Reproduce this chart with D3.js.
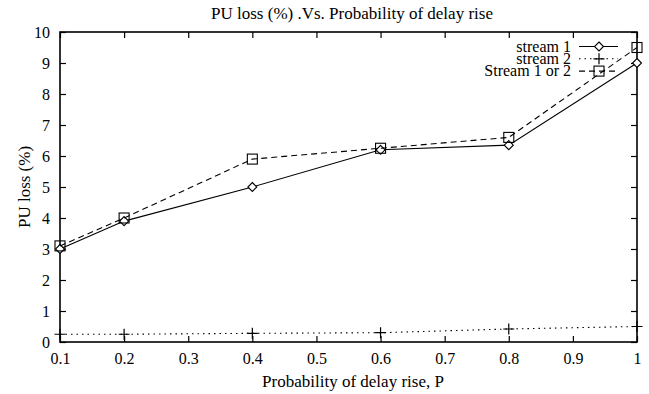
<!DOCTYPE html>
<html>
<head>
<meta charset="utf-8">
<script src="https://cdn.jsdelivr.net/npm/d3@7.9.0/dist/d3.min.js"></script>
<style>
  body { margin: 0; background: #fff; }
  svg text { font-family: 'Liberation Serif', 'Times New Roman', Times, serif; fill: #000; }
</style>
</head>
<body>
<svg id="chart" width="649" height="394"></svg>
<script>
const probs = [0.1, 0.2, 0.4, 0.6, 0.8, 1.0];
const stream1 = [3.0, 3.9, 5.0, 6.2, 6.35, 9.0];
const stream2 = [0.25, 0.25, 0.28, 0.3, 0.42, 0.5];
const streamEither = [3.1, 4.0, 5.9, 6.25, 6.6, 9.5];
const xTicks = [0.1, 0.2, 0.3, 0.4, 0.5, 0.6, 0.7, 0.8, 0.9, 1];
const yTicks = [0, 1, 2, 3, 4, 5, 6, 7, 8, 9, 10];

const svg = d3.select('#chart');
const m = { left: 60, right: 12, top: 32, bottom: 52 };
const w = 649 - m.left - m.right;
const h = 394 - m.top - m.bottom;

const x = d3.scaleLinear().domain([0.1, 1]).range([m.left, m.left + w]);
const y = d3.scaleLinear().domain([0, 10]).range([m.top + h, m.top]);

const fmt = (d) => (d === 1 ? '1' : d3.format('.1f')(d));

// ticks inward on all four sides
svg.append('g')
  .attr('transform', `translate(0,${m.top + h})`)
  .call(d3.axisBottom(x).tickValues(xTicks).tickFormat(fmt).tickSizeInner(-6).tickSizeOuter(0).tickPadding(11))
  .call((g) => g.select('.domain').remove());
svg.append('g')
  .attr('transform', `translate(0,${m.top})`)
  .call(d3.axisTop(x).tickValues(xTicks).tickFormat('').tickSizeInner(-6).tickSizeOuter(0))
  .call((g) => g.select('.domain').remove());
svg.append('g')
  .attr('transform', `translate(${m.left},0)`)
  .call(d3.axisLeft(y).tickValues(yTicks).tickSizeInner(-6).tickSizeOuter(0).tickPadding(10))
  .call((g) => g.select('.domain').remove());
svg.append('g')
  .attr('transform', `translate(${m.left + w},0)`)
  .call(d3.axisRight(y).tickValues(yTicks).tickFormat('').tickSizeInner(-6).tickSizeOuter(0))
  .call((g) => g.select('.domain').remove());

svg.selectAll('g').attr('font-family', null);
svg.selectAll('.tick line').attr('stroke', '#000').attr('stroke-width', 1.2);
svg.selectAll('.tick text').attr('font-size', 16).attr('fill', '#000');

svg.append('rect')
  .attr('x', m.left).attr('y', m.top).attr('width', w).attr('height', h)
  .attr('fill', 'none').attr('stroke', '#000').attr('stroke-width', 1.6);

// titles
svg.append('text').attr('x', 352).attr('y', 19).attr('text-anchor', 'middle')
  .attr('font-size', 17).text('PU loss (%) .Vs. Probability of delay rise');
svg.append('text').attr('x', 353).attr('y', 387).attr('text-anchor', 'middle')
  .attr('font-size', 17).text('Probability of delay rise, P');
svg.append('text').attr('transform', `translate(30,${m.top + h / 2}) rotate(-90)`)
  .attr('text-anchor', 'middle').attr('font-size', 17).text('PU loss (%)');

const series = [
  { name: 'stream 1', values: stream1, dash: null, marker: 'diamond' },
  { name: 'stream 2', values: stream2, dash: '1.5,4', marker: 'plus' },
  { name: 'Stream 1 or 2', values: streamEither, dash: '6,4', marker: 'square' },
];

const line = d3.line().x((d) => x(d[0])).y((d) => y(d[1]));

function drawMarker(g, type, cx, cy) {
  if (type === 'diamond') {
    g.append('path').attr('d', `M${cx},${cy - 4.5}L${cx + 4.5},${cy}L${cx},${cy + 4.5}L${cx - 4.5},${cy}Z`)
      .attr('fill', '#fff').attr('stroke', '#000').attr('stroke-width', 1.1);
  } else if (type === 'plus') {
    g.append('path').attr('d', `M${cx - 5.5},${cy}H${cx + 5.5}M${cx},${cy - 5.5}V${cy + 5.5}`)
      .attr('stroke', '#000').attr('stroke-width', 1.2);
  } else {
    g.append('rect').attr('x', cx - 5).attr('y', cy - 5).attr('width', 10).attr('height', 10)
      .attr('fill', 'none').attr('stroke', '#000').attr('stroke-width', 1.1);
  }
}

series.forEach((s) => {
  const pts = probs.map((p, i) => [p, s.values[i]]);
  svg.append('path').datum(pts).attr('d', line)
    .attr('fill', 'none').attr('stroke', '#000').attr('stroke-width', 1.1)
    .attr('stroke-dasharray', s.dash);
  const g = svg.append('g');
  pts.forEach((d) => drawMarker(g, s.marker, x(d[0]), y(d[1])));
});

// legend
const legend = svg.append('g');
series.forEach((s, i) => {
  const ly = 46.5 + i * 12.3;
  legend.append('text').attr('x', 571).attr('y', ly + 5).attr('text-anchor', 'end')
    .attr('font-size', 16).text(s.name);
  legend.append('line').attr('x1', 579).attr('x2', 618).attr('y1', ly).attr('y2', ly)
    .attr('stroke', '#000').attr('stroke-width', 1.1).attr('stroke-dasharray', s.dash);
  drawMarker(legend, s.marker, 599, ly);
});
</script>
</body>
</html>
